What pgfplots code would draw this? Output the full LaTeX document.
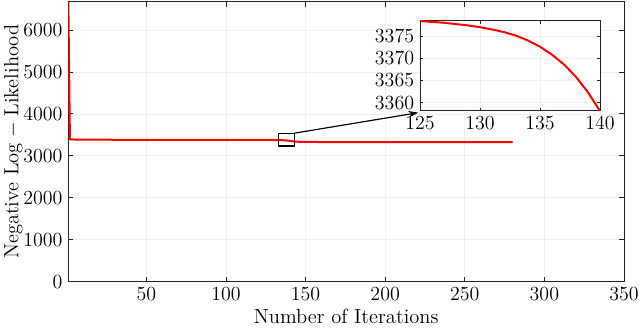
\documentclass[border=0pt]{standalone}
\usepackage{pgfplots}
\pgfplotsset{compat=1.18}
\usepackage{pgfplotstable}
\usetikzlibrary{arrows.meta}
\definecolor{axgray}{HTML}{262626}

\pgfplotstableread{
it    nll
1     6675
2     3395
5     3388
20    3384
50    3381
100   3379.6
125   3378.4
126   3378.2
127   3378.0
128   3377.7
129   3377.4
130   3377.0
131   3376.5
132   3375.9
133   3375.1
134   3374.0
135   3372.6
136   3370.8
137   3368.6
138   3365.8
139   3362.3
140   3358.1
142   3346
145   3336
150   3330
200   3327
280   3326
}\nll

\pgfplotsset{
  mlab/.style={
    axis line style={axgray, line width=0.6pt},
    every tick/.style={axgray, line width=0.5pt},
    tick align=inside, tick pos=both,
    major tick length=3pt,
    grid=major, grid style={gray!12, line width=0.4pt},
    tick label style={font=\fontsize{12.3}{14}\selectfont},
    label style={font=\fontsize{12.3}{14}\selectfont},
    scale only axis,
  }
}

\begin{document}
\begin{tikzpicture}
\path[use as bounding box] (0,0) rectangle (384pt,198pt);

\begin{axis}[mlab, name=main, anchor=south west, at={(41pt,29pt)},
  width=333.4pt, height=168pt,
  xmin=1, xmax=350, ymin=0, ymax=6675,
  xtick={50,100,...,350}, ytick={0,1000,...,6000},
  xlabel={Number of Iterations}, ylabel={Negative Log\;$-$\;Likelihood},
  xlabel style={yshift=1.5pt}, ylabel style={yshift=-6.5pt},
  scaled ticks=false, y tick label style={/pgf/number format/1000 sep={}},
  x tick label style={/pgf/number format/1000 sep={}}]
\addplot[red, line width=1.2pt] table[x=it, y=nll] {\nll};
\draw[black, line width=0.7pt] (axis cs:133,3235) rectangle (axis cs:143,3540);
\coordinate (boxcorner) at (axis cs:143,3540);
\end{axis}

\begin{axis}[mlab, name=inset, anchor=south west, at={(252pt,131.4pt)},
  width=108pt, height=54pt,
  axis background/.style={fill=white},
  xmin=125, xmax=140, ymin=3358.1, ymax=3378.4,
  xtick={125,130,135,140}, ytick={3360,3365,3370,3375},
  major tick length=2pt,
  scaled ticks=false, y tick label style={/pgf/number format/1000 sep={}}]
\addplot[red, line width=1.2pt] table[x=it, y=nll] {\nll};
\end{axis}

\draw[black, line width=0.7pt, -{Stealth[length=6pt, width=4pt]}] (boxcorner) -- ([xshift=-1pt,yshift=-1pt]inset.south west);
\end{tikzpicture}
\end{document}
